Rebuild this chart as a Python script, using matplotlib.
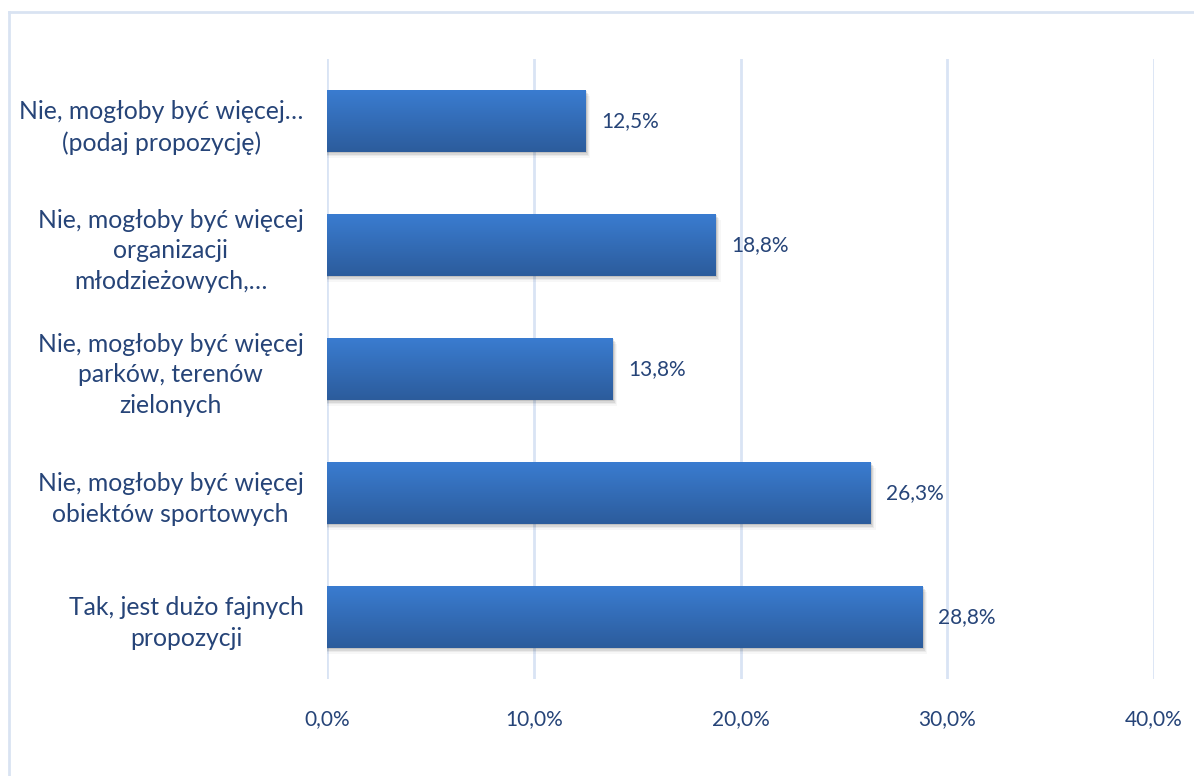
import numpy as np
import matplotlib.pyplot as plt
from matplotlib.colors import LinearSegmentedColormap
from matplotlib.patches import Rectangle

plt.rcParams['font.family'] = ['Lato', 'DejaVu Sans']

# --- data (bottom to top) ---
categories = [
    "Tak, jest dużo fajnych\npropozycji",
    "Nie, mogłoby być więcej\nobiektów sportowych",
    "Nie, mogłoby być więcej\nparków, terenów\nzielonych",
    "Nie, mogłoby być więcej\norganizacji\nmłodzieżowych,…",
    "Nie, mogłoby być więcej…\n(podaj propozycję)",
]
values = [28.8, 26.3, 13.8, 18.8, 12.5]
xticks = [0, 10, 20, 30, 40]

text_col = "#264478"
grid_col = "#D9E4F4"
grad = LinearSegmentedColormap.from_list("bar", ["#2C5C9C", "#3A7CD0"])

fig = plt.figure(figsize=(11.94, 7.76), dpi=100)
ax = fig.add_axes([327 / 1194, 1 - 679 / 776, 827 / 1194, 620 / 776])

# outer chart border (left and top visible)
fig.add_artist(plt.Line2D([9 / 1194, 9 / 1194], [0, 1 - 12 / 776],
                          transform=fig.transFigure, color="#D9E3F2", lw=2))
fig.add_artist(plt.Line2D([9 / 1194, 1], [1 - 12 / 776, 1 - 12 / 776],
                          transform=fig.transFigure, color="#D9E3F2", lw=2))

y = np.arange(len(values))
h = 0.5

for x in xticks:
    ax.axvline(x, color=grid_col, lw=2, zorder=0)

gimg = np.linspace(0, 1, 100).reshape(-1, 1)
for yi, v in zip(y, values):
    # soft shadow
    for k, a in enumerate([0.10, 0.08, 0.05, 0.03]):
        d = 0.012 * (k + 1)
        ax.add_patch(Rectangle((0, yi - h / 2 - d), v + 0.06 * (k + 1), h,
                               color="black", alpha=a, lw=0, zorder=1))
    ax.imshow(gimg, cmap=grad, aspect="auto", origin="lower",
              extent=(0, v, yi - h / 2, yi + h / 2), zorder=2)
    ax.text(v + 0.75, yi, f"{v:.1f}%".replace(".", ","), va="center",
            ha="left", fontsize=15, color=text_col)

ax.set_xlim(0, 40)
ax.set_ylim(-0.5, len(values) - 0.5)
ax.set_yticks(y)
ax.set_yticklabels(categories, fontsize=17.8, color=text_col,
                   multialignment="center", linespacing=1.42)
ax.set_xticks(xticks)
ax.set_xticklabels([f"{t:.1f}%".replace(".", ",") for t in xticks],
                   fontsize=15, color=text_col)
ax.tick_params(length=0)
ax.tick_params(axis="y", pad=17)
ax.tick_params(axis="x", pad=22)
for s in ax.spines.values():
    s.set_visible(False)

fig.savefig("out.png", dpi=100)
